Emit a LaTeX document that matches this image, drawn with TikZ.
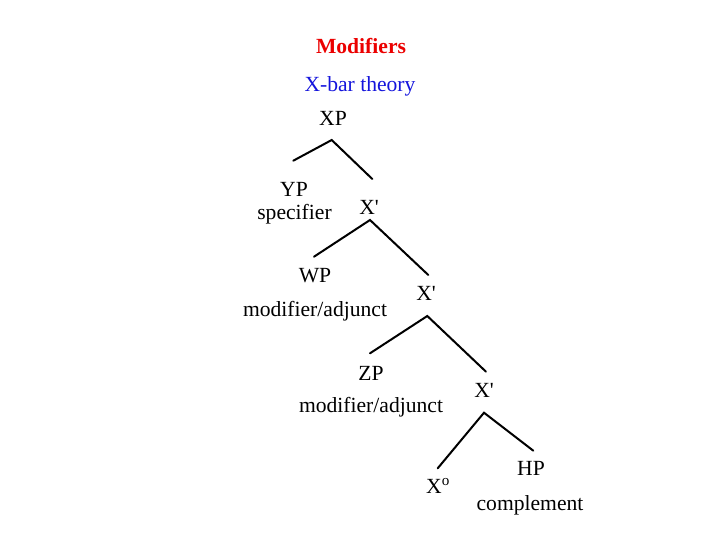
\documentclass[tikz,border=0pt]{standalone}
\usepackage{fontspec}
\setmainfont{Liberation Serif}
\definecolor{titlered}{RGB}{235,0,0}
\definecolor{subblue}{RGB}{20,20,220}
\begin{document}
\begin{tikzpicture}[x=1pt,y=-1pt,
  lab/.style={anchor=base,inner sep=0pt,font=\fontsize{21.6}{26}\selectfont},
  branch/.style={line width=2pt,line cap=round,line join=miter}]
\useasboundingbox (0,0) rectangle (720,557);
% titles
\node[lab,text=titlered,font=\fontsize{21.6}{26}\selectfont\bfseries] (title) at (361,53) {Modifiers};
\node[lab,text=subblue] (sub) at (360,91) {X-bar theory};
% labels
\node[lab] (xp) at (333,125) {XP};
\node[lab] (yp) at (294,196) {YP};
\node[lab] (spec) at (294.5,219) {specifier};
\node[lab] (xb1) at (369,214) {X\textquotesingle};
\node[lab] (wp) at (315,282) {WP};
\node[lab] (mod1) at (315,316) {modifier/adjunct};
\node[lab] (xb2) at (426,300) {X\textquotesingle};
\node[lab] (zp) at (371,380) {ZP};
\node[lab] (mod2) at (371,412) {modifier/adjunct};
\node[lab] (xb3) at (484,397) {X\textquotesingle};
\node[lab] (x0) at (438,493) {X\textsuperscript{o}};
\node[lab] (hp) at (531,475) {HP};
\node[lab] (comp) at (530,510) {complement};
% branch coordinates
\coordinate (a1) at (331.7,140);
\coordinate (l1) at (293.3,160.7);
\coordinate (r1) at (372.3,179);
\coordinate (a2) at (370,220);
\coordinate (l2) at (314,256.7);
\coordinate (r2) at (428.3,275);
\coordinate (a3) at (427.3,316);
\coordinate (l3) at (370,353.3);
\coordinate (r3) at (486,371.7);
\coordinate (a4) at (484,412.7);
\coordinate (l4) at (437.7,468.3);
\coordinate (r4) at (533.3,450.7);
% branches
\draw[branch] (l1) -- (a1) -- (r1);
\draw[branch] (l2) -- (a2) -- (r2);
\draw[branch] (l3) -- (a3) -- (r3);
\draw[branch] (l4) -- (a4) -- (r4);
\end{tikzpicture}
\end{document}
